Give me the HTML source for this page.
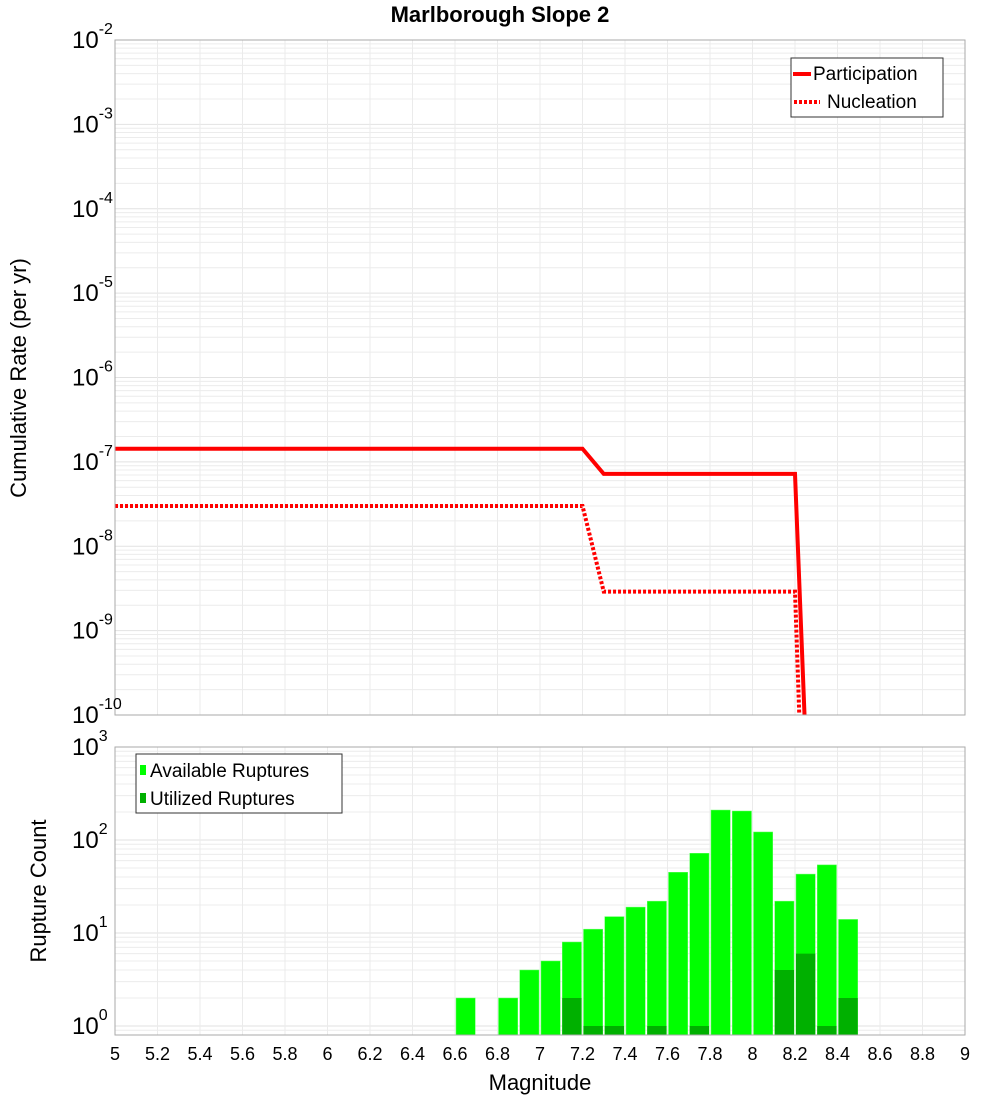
<!DOCTYPE html>
<html><head><meta charset="utf-8"><style>body{margin:0;background:#fff}svg{display:block}svg text{font-family:"Liberation Sans","DejaVu Sans",sans-serif}</style></head>
<body>
<svg id="c" width="1000" height="1100" xmlns="http://www.w3.org/2000/svg">
<defs>
<clipPath id="ct"><rect x="115" y="40" width="850" height="675"/></clipPath>
<clipPath id="cb"><rect x="115" y="747" width="850" height="288"/></clipPath>
</defs>
<text x="500" y="22" text-anchor="middle" font-size="22" font-weight="bold">Marlborough Slope 2</text>
<g id="topG"></g><g id="botG"></g><g id="labels"></g>
<text x="540" y="1090" text-anchor="middle" font-size="22">Magnitude</text>
<text transform="translate(26,378) rotate(-90)" text-anchor="middle" font-size="22">Cumulative Rate (per yr)</text>
<text transform="translate(46,891) rotate(-90)" text-anchor="middle" font-size="22">Rupture Count</text>
<g>
<rect x="791" y="58" width="152" height="59" fill="#fff" stroke="#333" stroke-width="1"/>
<line x1="793" y1="74" x2="811" y2="74" stroke="#f00" stroke-width="4"/>
<text x="813" y="80" font-size="19">Participation</text>
<line x1="794" y1="102" x2="820" y2="102" stroke="#f00" stroke-width="4" stroke-dasharray="3,2"/>
<text x="827" y="108" font-size="19">Nucleation</text>
</g>
<g>
<rect x="136" y="754" width="206" height="59" fill="#fff" stroke="#333" stroke-width="1"/>
<rect x="140" y="765" width="6" height="10" fill="#00ff00"/>
<text x="150" y="777" font-size="19">Available Ruptures</text>
<rect x="140" y="793" width="6" height="10" fill="#00b000"/>
<text x="150" y="805" font-size="19">Utilized Ruptures</text>
</g>
</svg>
<script>
const partMags=[5,7.2,7.3,8.2,8.3];
const partRates=[1.43e-7,1.43e-7,7.2e-8,7.2e-8,3e-14];
const nuclMags=[5,7.2,7.3,8.2,8.3];
const nuclRates=[3.0e-8,3.0e-8,2.9e-9,2.9e-9,1.5e-16];
const binMags=[6.6,6.8,6.9,7.0,7.1,7.2,7.3,7.4,7.5,7.6,7.7,7.8,7.9,8.0,8.1,8.2,8.3,8.4];
const availCounts=[2,2,4,5,8,11,15,19,22,45,72,210,205,122,22,43,54,14];
const utilCounts=[0,0,0,0,2,1,1,0,1,0,1,0,0,0,4,6,1,2];
const xTicks=[5,5.2,5.4,5.6,5.8,6,6.2,6.4,6.6,6.8,7,7.2,7.4,7.6,7.8,8,8.2,8.4,8.6,8.8,9];
const topExps=[-2,-3,-4,-5,-6,-7,-8,-9,-10];
const botExps=[3,2,1,0];

const NS="http://www.w3.org/2000/svg";
const L=115,R=965;
const X=m=>L+(m-5)/4*(R-L);
const T0=40,T1=715;
const YT=v=>T0+(-2-Math.log10(v))/8*(T1-T0);
const B0=747,B1=1035,B1v=1026,dec=93;
const YB=v=>B1v-Math.log10(v)*dec;
function el(p,t,a){const e=document.createElementNS(NS,t);for(const k in a)e.setAttribute(k,a[k]);p.appendChild(e);return e;}
const topG=document.getElementById('topG'),botG=document.getElementById('botG'),labG=document.getElementById('labels');

function grid(g,y0,y1,yf,lo,hi){
  for(let e=lo;e<hi;e++)for(let k=1;k<10;k++){const y=yf(k*Math.pow(10,e));if(y<y0-0.5||y>y1+0.5)continue;
    const ln=el(g,'line',{x1:L,x2:R,y1:y,y2:y,stroke:k==1?'#e2e2e2':'#ececec','stroke-width':1});
    
    }
  for(let i=0;i<=20;i++){const x=L+i*(R-L)/20;
    const ln=el(g,'line',{x1:x,x2:x,y1:y0,y2:y1,stroke:'#ebebeb','stroke-width':1});
    
    }
}
grid(topG,T0,T1,YT,-10,-2);
grid(botG,B0,B1,YB,-1,3);

function line(data,mags,dash,name){
  const pts=mags.map((m,i)=>X(m)+','+YT(data[i])).join(' ');
  const a={points:pts,fill:'none',stroke:'#ff0000','stroke-width':4,'clip-path':'url(#ct)'};
  if(dash)a['stroke-dasharray']=dash;
  const p=el(topG,'polyline',a);
  
  
}
line(nuclRates,nuclMags,'3,2','nucleation-line');
line(partRates,partMags,null,'participation-line');

const bw=(R-L)/40;
binMags.forEach((m,i)=>{
  const x=X(m)+1;
  if(availCounts[i]>0){const y=YB(availCounts[i]);
    const r=el(botG,'rect',{x:x,y:y,width:bw-2,height:B1-y,fill:'#00ff00',stroke:'#66ff66','stroke-width':0.5,'clip-path':'url(#cb)'});
    
    }
  if(utilCounts[i]>0){const y=YB(utilCounts[i]);
    const r=el(botG,'rect',{x:x,y:y,width:bw-2,height:B1-y,fill:'#00b000','clip-path':'url(#cb)'});
    
    }
});

[[T0,T1,'top-plot-frame'],[B0,B1,'bottom-plot-frame']].forEach(([a,b,n])=>{
  const r=el(labG,'rect',{x:L,y:a,width:R-L,height:b-a,fill:'none',stroke:'#aaaaaa','stroke-width':1});
  
  
});

function ylab(y,e,name){
  const t=el(labG,'text',{x:72,y:y+8,'font-size':24});
  
  
  t.appendChild(document.createTextNode('10'));
  const s=el(t,'tspan',{dy:-14,'font-size':16});s.textContent=String(e);
}
topExps.forEach(e=>ylab(YT(Math.pow(10,e)),e,'y-tick-label'));
botExps.forEach(e=>ylab(YB(Math.pow(10,e)),e,'count-tick-label'));
xTicks.forEach(m=>{
  const t=el(labG,'text',{x:X(m),y:1060,'text-anchor':'middle','font-size':18});
  
  
  t.textContent=String(m);
});
</script>
</body></html>
